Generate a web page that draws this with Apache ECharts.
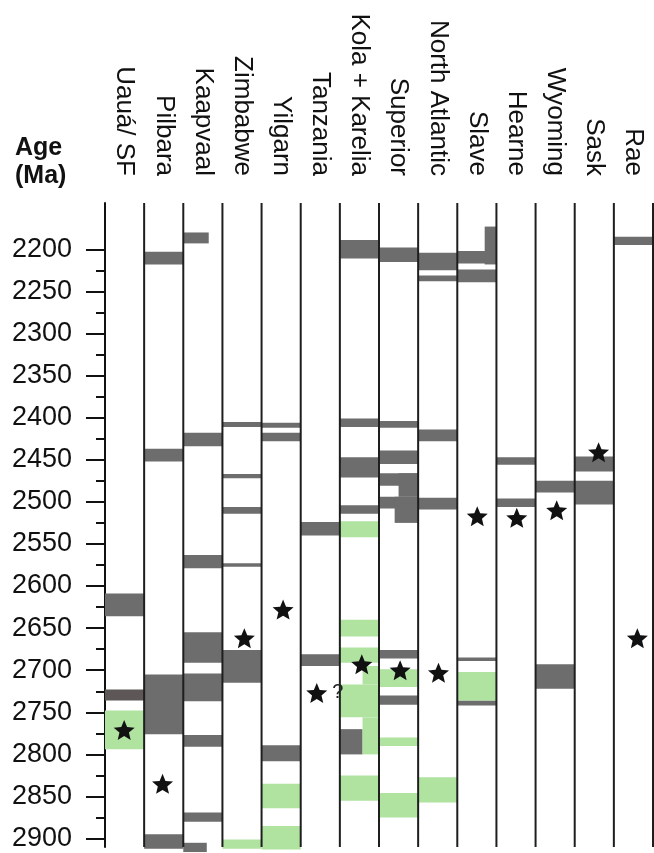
<!DOCTYPE html>
<html>
<head>
<meta charset="utf-8">
<script src="https://cdn.jsdelivr.net/npm/echarts@6/dist/echarts.min.js"></script>
<style>
  html, body { margin: 0; padding: 0; background: #fff; }
  #chart { width: 654px; height: 853px; }
</style>
</head>
<body>
<div id="chart"></div>
<script>
// Cratons, one column each (left to right)
const cratons = ['Uauá/ SF', 'Pilbara', 'Kaapvaal', 'Zimbabwe', 'Yilgarn', 'Tanzania',
  'Kola + Karelia', 'Superior', 'North Atlantic', 'Slave', 'Hearne', 'Wyoming', 'Sask', 'Rae'];

// Age axis (Ma)
const ageMin = 2145;
const ageMax = 2910;
const majorTicks = [2200, 2250, 2300, 2350, 2400, 2450, 2500, 2550, 2600, 2650, 2700, 2750, 2800, 2850, 2900];
const minorTicks = [2225, 2275, 2325, 2375, 2425, 2475, 2525, 2575, 2625, 2675, 2725, 2775, 2825, 2875];

// Age ranges: [column, young age, old age, part of column from, part of column to]
const grayBars = [
  [0, 2609, 2636],
  [1, 2203, 2218], [1, 2437, 2452], [1, 2705, 2776], [1, 2895, 2912],
  [2, 2180, 2193, 0, 0.65], [2, 2418, 2434], [2, 2563, 2579], [2, 2655, 2691], [2, 2704, 2737],
  [2, 2777, 2791], [2, 2869, 2880], [2, 2905, 2916, 0, 0.6],
  [3, 2405, 2411], [3, 2467, 2472], [3, 2506, 2514], [3, 2573, 2577], [3, 2676, 2715],
  [4, 2406, 2412], [4, 2418, 2428], [4, 2789, 2808],
  [5, 2524, 2540], [5, 2681, 2695],
  [6, 2189, 2211], [6, 2401, 2411], [6, 2447, 2471], [6, 2504, 2514], [6, 2770, 2800, 0, 0.58],
  [7, 2198, 2215], [7, 2404, 2412], [7, 2439, 2455], [7, 2466, 2481], [7, 2466, 2494, 0.5, 1],
  [7, 2494, 2508], [7, 2494, 2525, 0.4, 1], [7, 2676, 2686], [7, 2730, 2741],
  [8, 2204, 2225], [8, 2231, 2238], [8, 2414, 2428], [8, 2495, 2509],
  [9, 2173, 2218, 0.7, 1], [9, 2202, 2217], [9, 2224, 2239], [9, 2685, 2689], [9, 2736, 2742],
  [10, 2447, 2456], [10, 2496, 2506],
  [11, 2475, 2489], [11, 2693, 2722],
  [12, 2446, 2464], [12, 2475, 2503],
  [13, 2185, 2195]
];
const darkBars = [
  [0, 2723, 2736]
];
const greenBars = [
  [0, 2748, 2794],
  [3, 2901, 2912],
  [4, 2835, 2864], [4, 2885, 2913],
  [6, 2523, 2542], [6, 2640, 2660], [6, 2673, 2691], [6, 2695, 2717, 0.58, 1], [6, 2717, 2756],
  [6, 2756, 2800, 0.58, 1], [6, 2825, 2855],
  [7, 2699, 2720], [7, 2780, 2790], [7, 2846, 2875],
  [8, 2827, 2857],
  [9, 2702, 2736]
];

// Star events: [position across columns, age]
const stars = [
  [0.49, 2771], [1.47, 2835], [3.56, 2662], [4.55, 2628], [6.56, 2693], [7.54, 2700],
  [8.52, 2703], [9.51, 2517], [10.52, 2519], [11.54, 2510], [12.61, 2441], [13.6, 2662]
];
const uncertainStars = [
  [5.41, 2727]
];

// Column boundaries
const boundaries = [1, 2, 3, 4, 5, 6, 7, 8, 9, 10, 11, 12, 13, 14];

const FONT = 'Liberation Sans, Arial, Helvetica, sans-serif';
const STAR = 'path://M0,-10 L2.65,-3.64 L9.511,-3.09 L4.28,1.39 L5.878,8.09 L0,4.5 L-5.878,8.09 L-4.28,1.39 L-9.511,-3.09 L-2.65,-3.64 Z';

function normalize(rows) {
  return rows.map(r => [r[0], r[1], r[2], r.length > 3 ? r[3] : 0, r.length > 4 ? r[4] : 1]);
}

function rangeRenderer(color) {
  return function (params, api) {
    const col = api.value(0);
    const p0 = api.coord([col + api.value(3), api.value(1)]);
    const p1 = api.coord([col + api.value(4), api.value(2)]);
    return {
      type: 'rect',
      shape: { x: p0[0], y: p0[1], width: p1[0] - p0[0], height: p1[1] - p0[1] },
      style: { fill: color }
    };
  };
}

function rangeSeries(name, rows, color) {
  return {
    name: name,
    type: 'custom',
    xAxisIndex: 0,
    yAxisIndex: 0,
    clip: false,
    z: 2,
    encode: { x: [0], y: [1, 2] },
    renderItem: rangeRenderer(color),
    data: normalize(rows)
  };
}

const chart = echarts.init(document.getElementById('chart'), null, { renderer: 'canvas' });

chart.setOption({
  animation: false,
  backgroundColor: '#fff',
  title: {
    text: 'Age\n(Ma)',
    left: 15,
    top: 134,
    padding: 0,
    textStyle: { fontFamily: FONT, fontSize: 25, fontWeight: 'bold', color: '#111', lineHeight: 28 }
  },
  grid: { left: 105, top: 203, width: 548, height: 644 },
  xAxis: [
    {
      type: 'value', min: 0, max: 14, show: false
    },
    {
      type: 'category',
      position: 'top',
      data: cratons,
      boundaryGap: true,
      axisLine: { show: false },
      axisTick: { show: false },
      splitLine: { show: false },
      axisLabel: {
        rotate: 90, margin: 27, interval: 0,
        fontFamily: FONT, fontSize: 26, color: '#111'
      }
    }
  ],
  yAxis: [
    {
      type: 'value', inverse: true, min: ageMin, max: ageMax,
      axisLine: { show: true, lineStyle: { color: '#111', width: 2 } },
      axisTick: { show: true, customValues: majorTicks, length: 19, lineStyle: { color: '#111', width: 2 } },
      axisLabel: {
        customValues: majorTicks, margin: 33, fontFamily: FONT, fontSize: 27, color: '#111',
        formatter: v => String(v)
      },
      splitLine: { show: false }
    },
    {
      type: 'value', inverse: true, min: ageMin, max: ageMax, position: 'left',
      axisLine: { show: false },
      axisTick: { show: true, customValues: minorTicks, length: 9, lineStyle: { color: '#111', width: 2 } },
      axisLabel: { show: false },
      splitLine: { show: false }
    }
  ],
  series: [
    rangeSeries('gray', grayBars, '#6d6d6d'),
    rangeSeries('dark', darkBars, '#5d5757'),
    rangeSeries('green', greenBars, '#b0e2a0'),
    {
      name: 'columns',
      type: 'custom',
      xAxisIndex: 0,
      yAxisIndex: 0,
      clip: false,
      z: 5,
      encode: { x: [0] },
      renderItem: function (params, api) {
        const b = api.value(0);
        const top = api.coord([b, ageMin]);
        const bottom = api.coord([b, ageMax]);
        return {
          type: 'line',
          shape: { x1: top[0], y1: top[1], x2: bottom[0], y2: bottom[1] },
          style: { stroke: '#1e1e1e', lineWidth: 2 }
        };
      },
      data: boundaries.map(b => [b])
    },
    {
      name: 'events',
      type: 'scatter',
      xAxisIndex: 0,
      yAxisIndex: 0,
      z: 10,
      symbol: STAR,
      symbolSize: [21, 20],
      itemStyle: { color: '#111', opacity: 1 },
      data: stars
    },
    {
      name: 'uncertain events',
      type: 'scatter',
      xAxisIndex: 0,
      yAxisIndex: 0,
      z: 10,
      symbol: STAR,
      symbolSize: [21, 20],
      itemStyle: { color: '#111', opacity: 1 },
      label: {
        show: true, position: 'right', distance: 5, formatter: '?',
        fontFamily: FONT, fontSize: 20, color: '#222'
      },
      data: uncertainStars
    }
  ]
});
</script>
</body>
</html>
